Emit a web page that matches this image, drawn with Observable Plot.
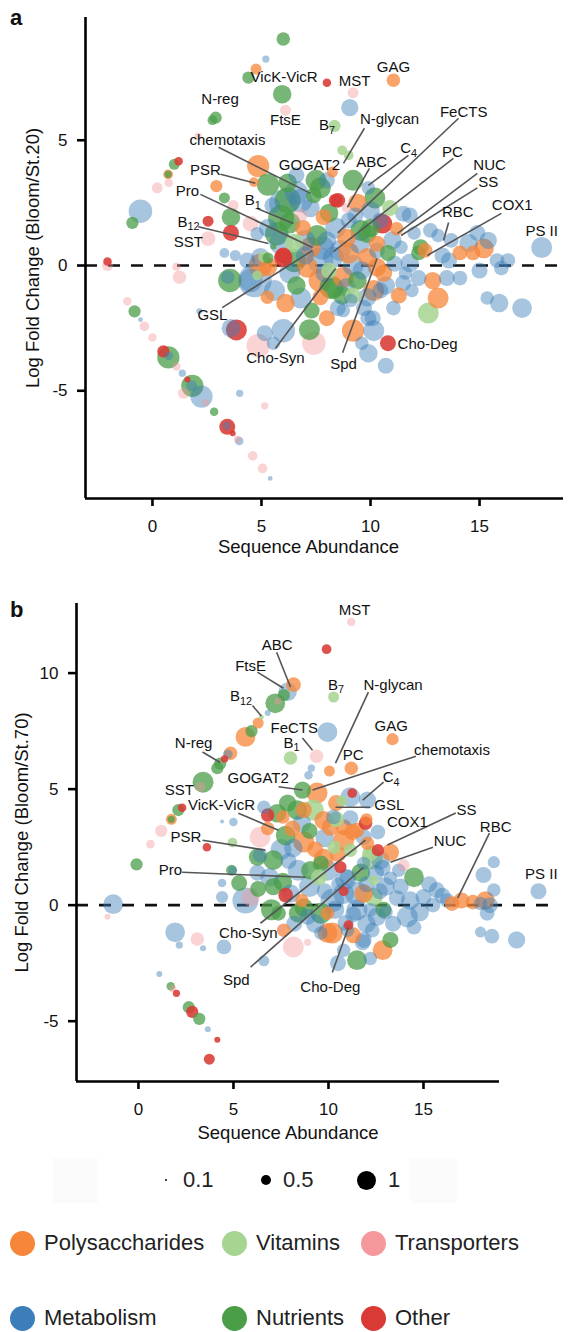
<!DOCTYPE html>
<html><head><meta charset="utf-8">
<script src="https://cdn.jsdelivr.net/npm/d3@7"></script>
<script src="https://cdn.jsdelivr.net/npm/@observablehq/plot@0.6"></script>
<style>
body{margin:0;background:#fff;font-family:"Liberation Sans",Arial,Helvetica,sans-serif;}
#wrap{position:relative;width:586px;height:1332px;overflow:hidden;background:#fff;}
.abs{position:absolute;}
.panel{position:absolute;left:0;}
.tag{position:absolute;font-weight:bold;font-size:22px;line-height:1;color:#111;}
.lg{position:absolute;font-size:22px;line-height:1;color:#222;white-space:nowrap;}
.dot{position:absolute;border-radius:50%;}
g[aria-label="x-axis tick label"] text, g[aria-label="y-axis tick label"] text{font-size:17px;}
g[aria-label="x-axis tick label"], g[aria-label="y-axis tick label"]{font-size:17px;}
</style></head><body><div id="wrap"></div>
<script>
// ---------- data ----------
const categories = ["Polysaccharides","Vitamins","Transporters","Metabolism","Nutrients","Other"];
const categoryColors = ["#f5863a","#a6d491","#f4989b","#3c7eb9","#4a9e48","#da3a35"];
const categoryOpacity = [0.75,0.85,0.42,0.45,0.75,0.88];
const legendRows = [["Polysaccharides","Vitamins","Transporters"],["Metabolism","Nutrients","Other"]];
const sizeLegendValues = [0.1,0.5,1];
const xTicks = [0,5,10,15];
const yTicksA = [-5,0,5];
const yTicksB = [-5,0,5,10];

// panel a points: [sequence abundance, log fold change, size, category index]
const pointsA = [
[-2.06,0.16,0.3,5],[-2.06,0.0,0.4,2],[1.1,-0.05,0.3,2],[1.24,-0.47,0.5,2],[-1.15,-1.43,0.3,2],
[-0.82,-1.83,0.45,4],[-0.55,-2.16,0.15,3],[-0.37,-2.43,0.35,2],[0,-2.87,0.3,2],[0.5,-3.43,0.45,5],
[0.73,-3.67,0.85,4],[0.75,-3.6,0.3,3],[1.1,-4.03,0.3,2],[1.37,-4.3,0.25,3],[1.6,-4.55,0.2,5],
[1.83,-4.8,0.85,4],[1.8,-4.8,0.4,3],[2.25,-5.23,0.85,3],[1.42,-5.1,0.4,2],[2.43,-5.47,0.25,2],
[2.83,-5.84,0.3,4],[3.43,-6.44,0.6,5],[3.4,-6.4,0.3,3],[3.68,-6.7,0.2,5],[3.9,-6.93,0.25,2],
[3.98,-7.0,0.3,3],[4.6,-7.6,0.35,2],[5.05,-8.1,0.35,2],[5.4,-8.5,0.15,3],[4.0,-5.1,0.25,3],
[5.15,-5.6,0.25,2],[2.15,-1.83,0.2,3],[3.85,-2.57,0.8,5],[3.6,-2.5,0.7,3],[4.85,-3.2,0.9,2],
[5.15,-2.7,0.6,3],[5.55,-3.1,0.5,3],[6.0,-2.6,0.9,3],[3.55,-0.6,0.9,4],[4.7,-0.6,1.3,3],
[5.27,-1.27,0.5,0],[4.95,0,0.9,0],[4.8,-0.4,0.35,1],[3.8,0.4,0.4,3],[3.3,0.5,0.35,3],
[5.1,0.35,0.4,1],[6.0,0.3,0.7,5],[7.2,-2.56,0.8,4],[7.4,-3.1,0.9,2],[8.0,-2.1,0.6,0],
[9.2,-2.6,0.85,0],[9.6,-3.1,0.5,3],[9.9,-3.5,0.7,3],[10.15,-2.6,0.8,3],[9.9,-2.1,0.6,3],
[10.7,-4.0,0.6,3],[10.8,-3.1,0.6,5],[8.75,-1.8,0.5,3],[9.1,-1.4,0.5,3],[8.3,-0.9,0.8,4],
[12.65,-1.9,0.8,1],[13.1,-1.3,0.8,0],[15.35,-1.3,0.5,3],[15.9,-1.5,0.7,3],[16.95,-1.7,0.75,3],
[17.85,0.72,0.8,3],
[6.0,9.04,0.5,4],[5.2,8.24,0.25,3],[4.75,7.84,0.4,0],[4.4,7.5,0.45,4],[5.95,6.84,0.7,4],
[6.1,6.2,0.4,2],[8.0,7.3,0.3,5],[9.2,6.9,0.4,2],[11.05,7.4,0.5,0],[9.05,6.3,0.65,3],
[8.35,5.57,0.45,1],[8.7,4.6,0.35,1],[9.0,4.4,0.35,1],[8.25,3.73,0.4,0],[2.9,5.9,0.45,4],
[2.75,5.8,0.35,4],[2.1,5.16,0.25,2],[1.2,4.16,0.3,5],[1.0,4.04,0.4,4],[0.72,3.64,0.35,0],
[0.72,3.64,0.25,4],[0.22,3.1,0.4,2],[0.75,3.3,0.3,2],[-0.55,2.17,0.9,3],[-0.92,1.7,0.45,4],
[2.93,3.17,0.45,0],[4.85,3.97,0.85,0],[5.3,3.23,0.85,4],[4.65,3.33,0.35,0],[3.6,1.93,0.7,4],
[3.3,2.7,0.4,4],[3.7,2.4,0.4,2],[2.55,1.77,0.4,5],[3.6,1.3,0.6,5],[2.55,1.07,0.55,2],
[4.5,1.67,0.6,2],[5.55,0.76,0.2,4],[6.0,2.47,1.1,3],[6.2,2.6,1.0,4],[5.9,1.9,1.0,4],
[6.0,0.4,0.6,5],
[9.2,3.4,0.8,4],[7.5,3.4,0.8,4],[8.5,2.6,0.55,5],[9.4,2.5,0.7,0],[8.9,2.3,0.35,2],
[10.2,2.7,0.8,4],[9.9,3.1,0.5,3],[10.55,1.67,0.75,5],[11.5,2.07,0.6,3],[11.8,2.0,0.6,3],
[12.75,1.4,0.55,3],[13.1,1.2,0.5,3],[13.7,1.0,0.55,3],[14.1,0.5,0.55,0],[14.7,0.5,0.55,0],
[15.2,0.68,0.75,0],[15.4,1.0,0.65,3],[15.8,0.2,0.55,3],[16.3,0.2,0.55,3],[16.0,-0.1,0.55,3],
[12.3,0.73,0.6,4],[12.2,0.5,0.55,4],[11.8,0.1,0.7,3],[11.1,0.07,0.6,3],[12.85,-0.6,0.65,0],
[13.5,-0.5,0.6,3],[14.1,-0.5,0.55,3],[11.5,-0.7,0.6,3],[10.6,-0.3,0.65,0],[10.15,-1.0,0.8,0],
[10.1,-2.1,0.6,3],[11.05,-1.7,0.55,3],[12.5,0.6,0.55,0],[11.4,0.73,0.5,3],[10.3,0.6,0.6,3],
[11.2,1.47,0.5,0],[10.45,1.8,0.6,3],[10.0,1.5,0.7,4],
[6.8,2.6,0.9,3],[7.7,3.1,0.8,4],[8.4,2.6,0.5,5],[6.3,1.7,0.8,4],[7.25,0.73,0.8,0],
[7.55,1.2,0.8,4],[7.7,0.2,1.0,3],[7.1,-0.07,0.8,0],[8.3,0.33,0.8,3],[7.7,-0.6,0.9,0],
[8.2,-0.87,0.9,4],[8.75,-0.47,0.8,0],[8.6,0.6,0.8,3],[9.55,1.4,0.8,4],[9.85,0.33,0.7,0],
[8.9,1.1,0.7,0],[4.8,1.27,0.5,3],[4.35,0.2,0.6,3],[4.95,0.33,0.7,3],[3.45,-0.47,0.5,3],
[4.5,-0.6,0.9,3],[5.3,0.3,0.4,4],[6.3,-0.3,0.8,3],[5.3,-0.05,0.7,0],[5.7,1.27,0.9,4],
[7.85,1.93,0.6,0],[7.25,2.3,0.7,3],[7.7,-1.27,0.6,0],[8.5,-1.7,0.6,3],[8.9,-0.87,0.7,3],
[9.85,1.27,0.7,4],[10.3,0.87,0.6,0],[9.85,-1.27,0.7,3],[10.3,-0.07,0.7,0],[10.45,-1.0,0.6,3],
[6.5,0.9,0.7,1],[6.9,1.5,0.6,0],[7.0,0.4,0.7,3],[8.0,1.0,0.7,3],[8.1,-0.2,0.6,1],
[9.2,0.0,0.8,3],[9.4,-0.6,0.7,4],[9.0,1.8,0.6,3],[6.6,-0.8,0.7,4],[6.8,2.0,0.5,2],
[7.4,2.8,0.6,4],[5.5,2.4,0.6,3],[6.2,3.3,0.7,4],[6.6,3.6,0.6,3],[8.0,3.4,0.6,3],
[9.2,-1.2,0.6,1],[10.8,0.5,0.6,4],[11.6,-0.3,0.5,3],[12.0,1.3,0.5,3],[13.3,0.4,0.6,3],
[5.6,-1.0,0.8,3],[6.1,-1.5,0.7,0],[6.8,-1.3,0.8,3],[7.3,-1.8,0.6,4],[5.9,0.9,0.9,3],
[6.5,0.2,0.9,4],[7.0,1.0,0.8,3],[7.8,0.7,0.9,3],[8.4,1.5,0.8,3],[8.1,2.1,0.7,4],
[9.0,0.5,0.8,0],[9.5,0.9,0.8,3],[9.6,-0.2,0.7,3],[10.7,-0.8,0.7,3],[11.3,-1.2,0.6,0],
[11.0,1.0,0.7,3],[10.0,2.2,0.7,3],[9.3,2.0,0.6,3],[12.2,-0.5,0.6,3],[13.6,0.2,0.6,3],
[14.5,0.9,0.7,3],[14.9,1.3,0.6,3],[15.0,-0.2,0.6,3],[6.6,2.9,0.9,3],[5.3,1.5,0.7,3],
[7.9,-0.3,0.7,3],[8.7,-1.2,0.7,4],[9.7,-1.7,0.6,3],[11.9,-1.0,0.5,3],[10.9,2.3,0.6,1]
];

// panel b points: [sequence abundance, log fold change, size, category index]
const pointsB = [
[11.2,12.2,0.3,2],[9.9,11.03,0.35,5],[8.16,9.5,0.55,0],[7.85,9.2,0.7,3],[7.65,9.05,0.45,4],
[7.2,8.7,0.75,4],[7.35,8.8,0.25,2],[6.8,8.28,0.2,3],[6.47,8.1,0.15,1],[6.3,7.85,0.4,0],
[5.95,7.5,0.45,4],[5.63,7.25,0.75,0],[4.85,6.55,0.5,0],[4.7,6.5,0.35,3],[4.53,6.3,0.25,5],
[4.3,6.1,0.45,4],[4.15,5.9,0.45,4],[3.4,5.3,0.8,4],[3.25,5.1,0.35,2],[2.3,4.2,0.3,5],
[2.1,4.1,0.45,4],[1.73,3.7,0.4,0],[1.73,3.7,0.25,4],[1.2,3.2,0.45,2],[0.63,2.63,0.3,2],
[-0.1,1.76,0.45,4],[-1.33,0.04,0.75,3],[-1.63,-0.5,0.2,2],[1.93,-1.17,0.75,3],[2.15,-1.72,0.25,3],
[3.1,-1.46,0.5,2],[3.4,-1.86,0.2,3],[4.5,-1.8,0.55,3],[6.6,-2.4,0.4,3],[1.1,-2.97,0.2,3],
[1.7,-3.5,0.3,4],[1.8,-3.6,0.25,2],[2.0,-3.8,0.25,5],[2.65,-4.4,0.45,4],[2.83,-4.6,0.45,5],
[3.2,-4.9,0.45,4],[3.65,-5.35,0.2,3],[4.15,-5.8,0.2,5],[3.73,-6.64,0.4,5],
[10.27,8.97,0.4,1],[9.95,7.46,0.75,3],[9.37,6.42,0.5,2],[8.0,6.34,0.5,1],[13.37,7.15,0.45,0],
[10.05,5.78,0.4,0],[11.2,5.9,0.5,0],[9.1,5.9,0.25,3],[8.95,5.6,0.3,3],[8.63,4.96,0.65,4],
[9.4,4.83,0.8,0],[11.15,4.66,0.75,3],[11.25,4.83,0.35,5],[10.7,4.5,0.4,1],[10.4,4.4,0.6,0],
[12.05,4.53,0.65,3],[7.85,4.4,0.65,4],[6.8,3.88,0.5,5],[6.6,4.22,0.5,3],[8.35,4.1,0.75,4],
[8.7,4.1,0.6,0],[9.2,4.1,0.8,1],[7.3,3.96,0.7,4],[7.6,3.8,0.5,0],[6.8,3.3,0.5,0],
[6.4,2.93,0.8,2],[7.75,3.0,0.75,4],[8.6,3.53,0.7,3],[9.75,3.66,0.7,0],[10.1,3.36,0.65,0],
[10.8,3.36,0.6,0],[11.15,3.75,0.6,3],[11.95,3.53,0.5,5],[11.5,3.23,0.55,0],[8.7,2.72,0.8,0],
[8.15,2.46,0.7,3],[6.26,2.07,0.65,4],[7.1,1.94,0.75,4],[8.4,1.5,0.8,3],[7.6,1.0,0.7,4],
[9.05,1.5,0.7,4],[4.9,1.5,0.4,4],[4.95,1.5,0.3,3],[4.4,0.95,0.3,3],[4.4,0.35,0.45,3],
[5.63,0.2,1.0,3],[5.9,0.35,0.7,2],[7.75,0.43,0.55,5],[9.95,1.5,0.8,3],[9.75,2.0,0.75,0],
[9.6,1.8,0.6,4],[10.8,2.8,0.8,0],[11.15,2.37,0.5,1],[11.85,2.93,0.6,3],[10.63,1.64,0.45,5],
[12.3,2.0,0.8,1],[12.6,2.37,0.45,5],[11.5,0.5,0.9,3],[10.8,0.5,0.8,3],[12.37,0.35,0.7,1],
[10.8,0.6,0.35,5],[8.7,-0.1,0.7,4],[8.6,0.2,0.5,0],[9.6,-0.35,0.8,4],[10.35,-0.2,0.7,3],
[10.2,-1.2,0.8,0],[10.9,-0.77,0.6,3],[11.5,-2.37,0.75,4],[11.85,-1.5,0.6,3],[12.55,-0.5,0.7,3],
[12.9,-0.2,0.6,4],[11.5,-0.2,0.8,3],[10.26,3.8,0.55,3],[11.26,3.15,0.6,0],[12.6,3.15,0.55,3],
[12.05,2.67,0.5,0],[13.26,2.28,0.65,0],[12.2,2.24,0.6,1],[12.74,1.94,0.7,3],[12.85,1.6,0.6,3],
[11.85,1.8,0.5,3],[14.5,1.2,0.75,4],[13.95,1.72,0.45,2],[12.37,1.07,0.35,1],[13.26,1.16,0.5,3],
[11.85,0.5,0.7,0],[13.8,0.8,0.6,3],[14.3,0.2,0.7,3],[15.0,0.35,0.6,3],[15.7,0.65,0.6,3],
[16.25,0.2,0.55,3],[16.5,0.07,0.55,0],[15.5,0.0,0.55,3],[14.15,-0.5,0.8,3],[13.4,-0.8,0.6,3],
[14.5,-0.95,0.55,3],[17.6,0.13,0.55,0],[18.26,0.2,0.7,0],[18.0,0.07,0.5,3],[18.5,0.0,0.6,3],
[18.35,-0.35,0.55,3],[18.7,1.85,0.45,3],[18.16,1.3,0.6,3],[18.7,0.65,0.5,3],[18.0,-1.16,0.4,3],
[18.6,-1.34,0.55,3],[19.9,-1.5,0.65,3],[21.05,0.6,0.6,3],[11.0,-1.08,0.5,3],[12.85,-1.94,0.75,0],
[13.26,-1.5,0.6,4],[12.3,-1.08,0.55,3],[11.8,-1.6,0.6,3],[10.8,-1.94,0.5,3],[8.9,-0.5,0.6,3],
[8.4,-0.35,0.7,4],[9.95,-0.35,0.5,0],[9.6,-1.2,0.5,3],[7.65,-1.08,0.5,0],[8.15,-1.8,0.8,2],
[8.9,-1.6,0.25,2],[7.37,-0.35,0.55,4],[9.95,-1.2,0.75,0],[11.05,-0.86,0.35,5],[5.0,3.58,0.3,3],
[4.4,3.6,0.12,3],[4.95,2.7,0.35,1],[3.6,2.5,0.3,5],[5.3,0.95,0.6,4],[6.26,1.4,0.6,3],
[6.4,2.15,0.55,3],[7.1,0.8,0.65,4],[7.5,-1.0,0.25,2],
[11.0,1.2,0.6,3],[12.0,0.9,0.6,3],[12.7,0.6,0.6,3],[13.0,-0.3,0.55,3],[11.3,-0.4,0.6,3],
[10.5,0.9,0.5,3],[9.8,0.6,0.6,3],[12.2,-0.2,0.5,3],[9.3,2.4,0.6,0],[10.5,2.2,0.6,0],
[12.0,3.7,0.45,0],[9.0,3.2,0.6,4],[10.3,2.5,0.5,1],
[7.5,2.4,0.8,3],[8.0,0.5,0.7,3],[9.0,0.8,0.8,3],[9.3,-0.8,0.7,3],[10.2,0.2,0.9,3],
[10.9,1.1,0.8,3],[11.7,1.4,0.7,4],[12.5,1.4,0.6,3],[13.6,0.3,0.6,3],[13.0,0.8,0.7,3],
[11.3,-1.3,0.6,0],[12.2,-2.3,0.5,3],[10.5,-2.5,0.6,3],[9.8,2.9,0.7,3],[10.4,3.7,0.6,1],
[8.1,3.3,0.6,0],[9.5,1.2,0.6,1],[7.9,1.9,0.6,3],[6.9,1.2,0.7,3],[6.3,0.7,0.6,4],
[7.0,-0.2,0.8,4],[8.2,-0.8,0.6,3],[14.8,-0.3,0.7,3],[15.3,0.9,0.6,3],[16.0,0.4,0.6,3],
[17.0,0.2,0.6,0],[13.7,1.5,0.5,3],[12.0,-0.8,0.7,3]
];

// labels: [text, label x, label y, anchor, leader x1, y1, x2, y2]  ("_" marks a subscript)
const labelsA = [
["VicK-VicR",4.5,7.52,"start"],["N-reg",3.1,6.64,"middle"],["FtsE",6.1,5.8,"middle"],
["MST",9.27,7.36,"middle"],["GAG",11.05,7.92,"middle"],["B_7",8.0,5.6,"middle"],
["N-glycan",10.87,5.84,"middle",9.72,5.48,8.76,4.08],["chemotaxis",3.44,5.0,"middle",3.03,4.72,7.25,2.88],
["GOGAT2",7.2,4.0,"middle"],["ABC",10.05,4.12,"middle",9.95,3.88,8.94,2.32],
["C_4",11.75,4.68,"middle",11.74,4.4,9.9,3.2],["FeCTS",14.27,6.12,"middle",14.04,5.88,8.5,1.3],
["PC",13.76,4.52,"middle",13.8,4.28,8.3,0.55],["NUC",15.46,4.0,"middle",14.9,3.68,11.24,1.28],
["SS",15.4,3.32,"middle",14.9,3.1,11.4,1.2],["RBC",14.0,2.12,"middle",13.58,1.72,13.35,1.0],
["COX1",16.5,2.4,"middle",16.0,2.08,12.6,0.4],["PS II",17.85,1.36,"middle"],
["PSR",2.43,3.8,"middle",3.12,3.64,4.72,3.28],["Pro",1.6,2.96,"middle",2.2,2.84,7.34,0.72],
["B_1",4.6,2.6,"middle",4.8,2.28,6.47,1.68],["B_12",1.65,1.74,"middle",2.1,1.55,5.32,0.88],
["SST",1.65,0.95,"middle"],["GSL",2.75,-2.0,"middle",3.2,-1.68,7.34,0.6],
["Cho-Syn",5.64,-3.68,"middle",5.64,-3.3,8.4,-0.12],["Spd",8.76,-3.92,"middle",8.72,-3.48,10.3,0.28],
["Cho-Deg",11.24,-3.16,"start"]
];
const labelsB = [
["MST",11.37,12.7,"middle"],["ABC",7.3,11.2,"middle",7.27,10.9,8.0,9.4],
["FtsE",5.9,10.3,"middle",6.26,10.04,7.63,9.35],["B_12",5.4,9.0,"middle",6.0,8.6,6.47,8.15],
["B_7",10.4,9.5,"middle"],["N-glycan",13.4,9.5,"middle",12.1,9.18,10.37,6.12],
["FeCTS",8.2,7.63,"middle"],["B_1",8.05,7.0,"middle",8.63,7.2,9.16,6.68],
["GAG",13.3,7.7,"middle"],["PC",11.3,6.45,"middle"],
["chemotaxis",16.5,6.68,"middle",14.6,6.42,9.16,4.96],["C_4",13.3,5.5,"middle",12.9,5.3,11.8,4.53],
["GSL",13.2,4.31,"middle",12.2,4.22,10.37,4.22],["GOGAT2",6.3,5.47,"middle",7.37,5.1,8.63,4.96],
["N-reg",2.9,7.0,"middle",3.37,6.6,4.3,6.15],["SST",2.15,4.95,"middle"],
["VicK-VicR",4.37,4.31,"middle",5.26,3.96,7.37,3.23],["PSR",2.5,2.93,"middle",3.37,2.8,6.68,2.37],
["Pro",1.68,1.5,"middle",2.3,1.42,8.8,1.2],["Cho-Syn",5.78,-1.2,"middle",6.42,-0.78,11.95,2.8],
["Spd",5.15,-3.23,"middle",5.9,-2.67,11.85,1.64],["Cho-Deg",10.1,-3.53,"middle",10.2,-2.9,11.05,-0.95],
["SS",17.26,4.1,"middle",16.7,3.97,13.1,2.59],["COX1",14.15,3.58,"middle"],
["NUC",16.4,2.77,"middle",15.5,2.5,13.26,1.85],["RBC",18.8,3.36,"middle",18.47,3.1,16.8,0.3],
["PS II",21.2,1.34,"middle"]
];

// ---------- drawing ----------
const FONT = '"Liberation Sans", Arial, Helvetica, sans-serif';
const wrap = document.getElementById("wrap");

function subscripts(svg){
  svg.querySelectorAll("text, tspan").forEach(el => {
    if (el.children.length === 0 && el.textContent.includes("_")) {
      const [base, sub] = el.textContent.split("_");
      el.textContent = base;
      const t = document.createElementNS("http://www.w3.org/2000/svg","tspan");
      t.setAttribute("font-size","0.72em");
      t.setAttribute("dy","0.34em");
      t.textContent = sub;
      el.appendChild(t);
    }
  });
}

function panel(cfg){
  const [x0,x1] = cfg.xDomain, [y0,y1] = cfg.yDomain;
  const lines = cfg.labels.filter(d => d.length > 4);
  const svg = Plot.plot({
    width: 586, height: cfg.height,
    marginTop: cfg.mt, marginBottom: cfg.mb, marginLeft: cfg.ml, marginRight: cfg.mr,
    style: {fontFamily: FONT, background: "transparent", overflow: "visible", color: "#111"},
    x: {domain: cfg.xDomain},
    y: {domain: cfg.yDomain},
    r: {type: "linear", domain: [0,1], range: [0.5,13]},
    color: {domain: categories, range: categoryColors},
    marks: [
      Plot.ruleY([0], {x1: x0, x2: cfg.dashEnd, stroke: "#111", strokeWidth: 2.6, strokeDasharray: "12,11"}),
      Plot.dot(cfg.points, {x: d => d[0], y: d => d[1], r: d => d[2], fill: d => categories[d[3]],
        fillOpacity: d => categoryOpacity[d[3]], stroke: "none"}),
      Plot.link(lines, {x1: d => d[4], y1: d => d[5], x2: d => d[6], y2: d => d[7], stroke: "#555", strokeWidth: 1.6}),
      Plot.text(cfg.labels.filter(d => d[3] === "middle"), {x: d => d[1], y: d => d[2], text: d => d[0], fontSize: 15, fill: "#111", textAnchor: "middle"}),
      Plot.text(cfg.labels.filter(d => d[3] === "start"), {x: d => d[1], y: d => d[2], text: d => d[0], fontSize: 15, fill: "#111", textAnchor: "start"}),
      Plot.ruleX([x0], {y1: y0, y2: y1, stroke: "#000", strokeWidth: 2.6}),
      Plot.ruleY([y0], {x1: x0, x2: x1, stroke: "#000", strokeWidth: 2.6}),
      Plot.axisX({ticks: xTicks, tickSize: 8, tickPadding: 13, fontSize: 17, strokeWidth: 2.6, stroke: "#000", label: null, tickFormat: d => String(d)}),
      Plot.axisY({ticks: cfg.yTicks, tickSize: 8, tickPadding: 10, fontSize: 17, strokeWidth: 2.6, stroke: "#000", label: null, tickFormat: d => String(d)}),
      Plot.text(["Sequence Abundance"], {frameAnchor: "bottom", dx: cfg.xTitleDx, dy: cfg.xTitleDy, fontSize: 18.5, fill: "#111", textAnchor: "middle"}),
      Plot.text([cfg.yTitle], {frameAnchor: "left", dx: cfg.yTitleDx, rotate: -90, fontSize: 18.5, fill: "#111", textAnchor: "middle"})
    ]
  });
  subscripts(svg);
  const holder = document.createElement("div");
  holder.className = "panel";
  holder.style.top = cfg.top + "px";
  holder.appendChild(svg);
  wrap.appendChild(holder);
}

panel({top: 0, height: 570, mt: 17, mb: 72, ml: 85, mr: 23,
  xDomain: [-3.07, 18.85], yDomain: [-9.3, 9.9], yTicks: yTicksA, dashEnd: 18.85,
  points: pointsA, labels: labelsA, xTitleDx: -16, xTitleDy: 54, yTitleDx: -52, yTitle: "Log Fold Change (Bloom/St.20)"});
panel({top: 570, height: 580, mt: 33, mb: 69, ml: 76, mr: 87,
  xDomain: [-3.26, 19.0], yDomain: [-7.6, 13.0], yTicks: yTicksB, dashEnd: 22.1,
  points: pointsB, labels: labelsB, xTitleDx: 0, xTitleDy: 57, yTitleDx: -54, yTitle: "Log Fold Change (Bloom/St.70)"});

// panel tags
[["a",10,7],["b",10,599]].forEach(([t,l,tp]) => {
  const d = document.createElement("div"); d.className = "tag"; d.textContent = t;
  d.style.left = l + "px"; d.style.top = tp + "px"; wrap.appendChild(d);
});

// faint legend key backgrounds
[[53,1158,45,45],[410,1158,47,45]].forEach(([l,t,w,h]) => {
  const d = document.createElement("div"); d.className = "abs";
  Object.assign(d.style, {left: l+"px", top: t+"px", width: w+"px", height: h+"px", background: "#fbfbfb"});
  wrap.appendChild(d);
});

// size legend
const sizeX = [166, 266, 366];
sizeLegendValues.forEach((v, i) => {
  const r = 0.5 + 9 * v;
  const c = document.createElement("div"); c.className = "dot";
  Object.assign(c.style, {left: (sizeX[i]-r)+"px", top: (1180-r)+"px", width: 2*r+"px", height: 2*r+"px", background: "#000"});
  wrap.appendChild(c);
  const t = document.createElement("div"); t.className = "lg"; t.textContent = String(v);
  Object.assign(t.style, {left: (sizeX[i]+17+(i===2?5:0))+"px", top: "1169px"});
  wrap.appendChild(t);
});

// color legend
const colX = [22, 234, 373];
const rowY = [1243, 1318];
legendRows.forEach((row, ri) => row.forEach((name, ci) => {
  const col = categoryColors[categories.indexOf(name)];
  const c = document.createElement("div"); c.className = "dot";
  Object.assign(c.style, {left: (colX[ci]-12.5)+"px", top: (rowY[ri]-12.5)+"px", width: "25px", height: "25px", background: col});
  wrap.appendChild(c);
  const t = document.createElement("div"); t.className = "lg"; t.textContent = name;
  Object.assign(t.style, {left: (colX[ci]+22)+"px", top: (rowY[ri]-11)+"px"});
  wrap.appendChild(t);
}));
</script></body></html>
